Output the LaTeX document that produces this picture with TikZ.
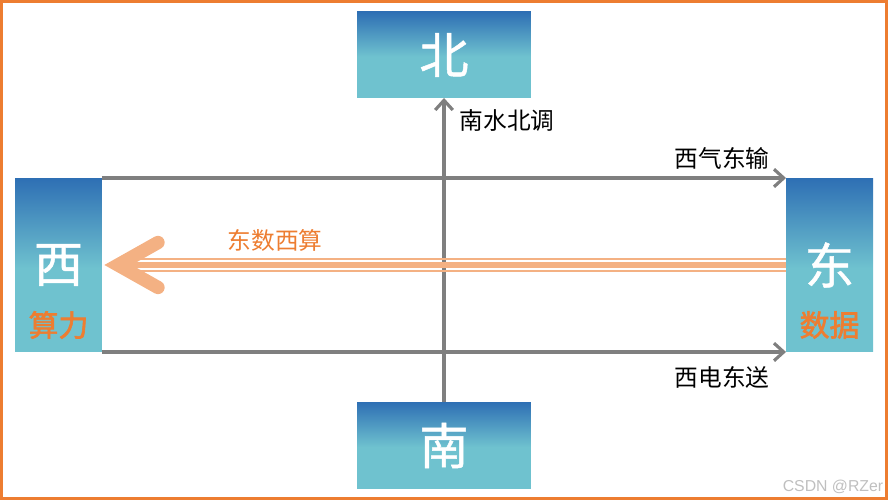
\documentclass[tikz,border=0pt]{standalone}
\usepackage{fontspec}
\setmainfont{Noto Sans CJK SC}
\newfontfamily\heavycjk{Noto Sans CJK SC}[FakeBold=2]
\newfontfamily\boxcjk{Noto Sans CJK SC}[FakeBold=1]
\newfontfamily\wmfont{Liberation Sans}
\usetikzlibrary{arrows.meta}
\definecolor{boxtop}{HTML}{2E6FB4}
\definecolor{boxbot}{HTML}{6FC2CF}
\definecolor{flowgray}{HTML}{7F7F7F}
\definecolor{dataorange}{HTML}{ED7D31}
\definecolor{bandorange}{HTML}{F4B183}
\pgfdeclareverticalshading{dirshade}{100bp}{color(0bp)=(boxbot); color(49bp)=(boxbot); color(75bp)=(boxtop); color(100bp)=(boxtop)}
\tikzset{
	dirbox/.style={inner sep=0pt, outer sep=0pt, shading=dirshade, text=white, font=\boxcjk\fontsize{28}{28}\selectfont},
	flow/.style={line width=1.8pt, color=flowgray, -{Straight Barb[length=5.5pt,width=10pt]}},
	flowlabel/.style={font=\fontsize{13.5}{13.5}\selectfont, text=black},
	sublabel/.style={font=\heavycjk\fontsize{17}{17}\selectfont, text=dataorange},
	band/.style={color=bandorange},
}

\begin{document}
\begin{tikzpicture}[x=0.02cm, y=0.02cm]
			%%%%% START %%%%%
			\useasboundingbox (0, 0) rectangle (888, 502);
			\draw[line width=2pt, color=dataorange] (1, 3.5) rectangle (886.5, 501);
			
			\node[dirbox, minimum width=3.48cm, minimum height=1.72cm] (north) at (444, 447) {北};
			\node[dirbox, minimum width=3.48cm, minimum height=1.74cm] (south) at (444, 56.5) {南};
			\node[dirbox, minimum width=1.74cm, minimum height=3.48cm] (west) at (58.5, 237) {西};
			\node[dirbox, minimum width=1.74cm, minimum height=3.48cm] (east) at (829.5, 237) {东};
			
			\node[sublabel] (westsub) at (58.5, 177) {算力};
			\node[sublabel] (eastsub) at (829.5, 177) {数据};
			
			\draw[flow] (south.north) -- (north.south);
			\draw[flow] (west.north east) -- (east.north west);
			\draw[flow] (west.south east) -- (east.south west);
			
			\node[flowlabel] (nslabel) at (507, 381) {南水北调};
			\node[flowlabel] (gaslabel) at (722, 344) {西气东输};
			\node[flowlabel] (powerlabel) at (722, 125) {西电东送};
			
			% data band, east to west
			\draw[band, line width=1.2pt] ([yshift=0.12cm]east.west) -- ([yshift=0.12cm, xshift=0.5cm]west.east);
			\draw[band, line width=3pt] (east.west) -- ([xshift=0.5cm]west.east);
			\draw[band, line width=1.2pt] ([yshift=-0.12cm]east.west) -- ([yshift=-0.12cm, xshift=0.5cm]west.east);
			\draw[band, line width=7.6pt, line cap=round, miter limit=10] ([shift={(56, 22.5)}]west.east) -- ([xshift=0.32cm]west.east) -- ([shift={(56, -22.5)}]west.east);
			\node[font=\fontsize{13.5}{13.5}\selectfont, text=dataorange] (datalabel) at (275, 262) {东数西算};
			
			\node[font=\wmfont\fontsize{9}{9}\selectfont, text=black!25] (mark) at (833, 15) {CSDN @RZer};
			%%%%% END %%%%%
\end{tikzpicture}
\end{document}
